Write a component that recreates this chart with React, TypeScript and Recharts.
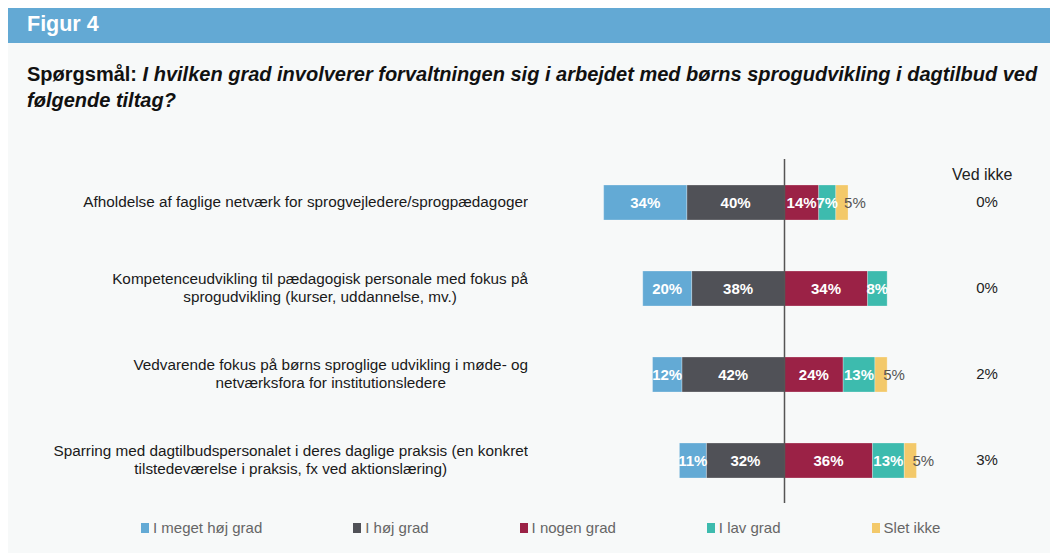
import React from "react";
import {
  BarChart, Bar, XAxis, YAxis, ReferenceLine, LabelList,
} from "recharts";

const categories = [
  ["Afholdelse af faglige netværk for sprogvejledere/sprogpædagoger"],
  ["Kompetenceudvikling til pædagogisk personale med fokus på", "sprogudvikling (kurser, uddannelse, mv.)"],
  ["Vedvarende fokus på børns sproglige udvikling i møde- og", "netværksfora for institutionsledere"],
  ["Sparring med dagtilbudspersonalet i deres daglige praksis (en konkret", "tilstedeværelse i praksis, fx ved aktionslæring)"],
];

const megetHoej = [34, 20, 12, 11];
const hoej = [40, 38, 42, 32];
const nogen = [14, 34, 24, 36];
const lav = [7, 8, 13, 13];
const sletIkke = [5, 0, 5, 5];
const vedIkke = [0, 0, 2, 3];

const series = [
  { key: "hoej", name: "I høj grad", color: "#505157", values: hoej, sign: -1 },
  { key: "meget", name: "I meget høj grad", color: "#63AAD5", values: megetHoej, sign: -1 },
  { key: "nogen", name: "I nogen grad", color: "#9B2246", values: nogen, sign: 1 },
  { key: "lav", name: "I lav grad", color: "#3DBBAE", values: lav, sign: 1 },
  { key: "slet", name: "Slet ikke", color: "#F3C96A", values: sletIkke, sign: 1 },
];

const legendOrder = ["meget", "hoej", "nogen", "lav", "slet"];

const data = categories.map((lines, i) => {
  const row: any = { name: lines.join(" ") };
  series.forEach(s => { row[s.key] = s.sign * s.values[i]; });
  return row;
});

const FONT = "'Liberation Sans', Arial, sans-serif";

function CategoryTick({ x, y, payload }: any) {
  const lines = categories[payload.index] ?? [payload.value];
  const right = x - 61;
  return (
    <foreignObject x={right - 560} y={y - 24} width={560} height={48}>
      <div style={{ display: "flex", justifyContent: "flex-end", alignItems: "center", height: "100%" }}>
        <div style={{ textAlign: "center", fontFamily: FONT, fontSize: 15.3, lineHeight: "18px", color: "#1a1a1a" }}>
          {lines.map((l, k) => <div key={k} style={{ whiteSpace: "nowrap" }}>{l}</div>)}
        </div>
      </div>
    </foreignObject>
  );
}

function VedIkkeTick({ y, payload }: any) {
  return (
    <text x={987} y={y + 5} textAnchor="middle" fontFamily={FONT} fontSize={15} fill="#222">
      {vedIkke[payload.index]}%
    </text>
  );
}

function makeLabel(outside: boolean) {
  return (p: any) => {
    const vb = p.viewBox ?? p;
    const x = vb.x ?? p.x, y = vb.y ?? p.y, w = vb.width ?? p.width, h = vb.height ?? p.height;
    const v = Math.abs(Number(p.value));
    if (!v) return null;
    if (outside) {
      return (
        <text x={x + w - 4} y={y + h / 2 + 5} textAnchor="start" fontFamily={FONT} fontSize={15} fill="#555">
          {v}%
        </text>
      );
    }
    return (
      <text x={x + w / 2} y={y + h / 2 + 5} textAnchor="middle" fontFamily={FONT} fontSize={15} fontWeight="bold" fill="#fff">
        {v}%
      </text>
    );
  };
}

export default function App() {
  return (
    <div style={{ position: "absolute", left: 0, top: 0, width: 1050, height: 553, background: "#fff", overflow: "hidden", fontFamily: FONT }}>
      <div style={{ position: "absolute", left: 8, top: 8, width: 1042, height: 545, background: "#F7F9F9" }} />
      <div style={{ position: "absolute", left: 8, top: 8, width: 1042, height: 35, background: "#63A9D4" }}>
        <div style={{ position: "absolute", left: 19, top: 4, color: "#fff", fontWeight: "bold", fontSize: 21.5 }}>Figur 4</div>
      </div>
      <div style={{ position: "absolute", left: 27, top: 61, width: 1200, fontSize: 20, fontWeight: "bold", lineHeight: "26px", color: "#111", whiteSpace: "nowrap" }}>
        Spørgsmål: <i>I hvilken grad involverer forvaltningen sig i arbejdet med børns sprogudvikling i dagtilbud ved</i>
        <br />
        <i>følgende tiltag?</i>
      </div>
      <div style={{ position: "absolute", left: 0, top: 0 }}>
        <BarChart
          width={1050}
          height={553}
          data={data}
          layout="vertical"
          stackOffset="sign"
          barSize={35}
          margin={{ top: 159, right: 0, bottom: 50, left: 0 }}
        >
          <XAxis type="number" domain={[-80, 80]} hide />
          <YAxis yAxisId="left" type="category" dataKey="name" width={589} axisLine={false} tickLine={false}
            tickSize={0} tickMargin={0} interval={0} tick={<CategoryTick />} />
          <YAxis yAxisId="right" orientation="right" type="category" dataKey="name" width={70} axisLine={false}
            tickLine={false} interval={0} tick={<VedIkkeTick />} />
          {series.map(s => (
            <Bar key={s.key} yAxisId="left" dataKey={s.key} name={s.name} stackId="a" fill={s.color}
              stroke="#ffffff" strokeOpacity={0.35} strokeWidth={0.75} isAnimationActive={false}>
              <LabelList dataKey={s.key} content={makeLabel(s.key === "slet")} />
            </Bar>
          ))}
          <ReferenceLine yAxisId="left" x={0} stroke="#555" strokeWidth={1.5} ifOverflow="extendDomain" />
        </BarChart>
      </div>
      <div style={{ position: "absolute", left: 952, top: 166, fontSize: 16, color: "#222" }}>Ved ikke</div>
      <div style={{ position: "absolute", left: 141, top: 519, display: "flex", gap: 91 }}>
        {legendOrder.map(k => {
          const s = series.find(x => x.key === k)!;
          return (
            <div key={k} style={{ display: "flex", alignItems: "center", gap: 4, fontSize: 15, color: "#666" }}>
              <span style={{ width: 8, height: 10, background: s.color, display: "inline-block" }} />
              <span>{s.name}</span>
            </div>
          );
        })}
      </div>
    </div>
  );
}
